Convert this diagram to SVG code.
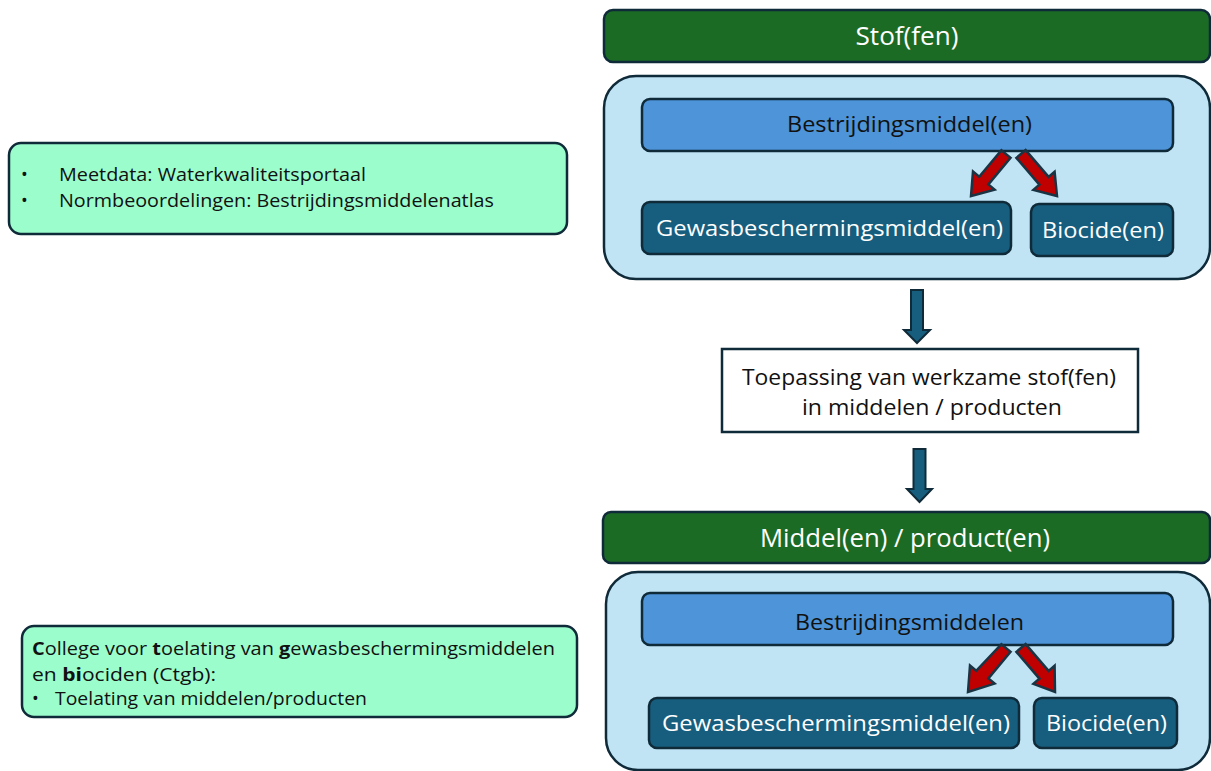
<svg xmlns="http://www.w3.org/2000/svg" width="1211" height="771" viewBox="0 0 1211 771">
<style>
text{font-family:"Open Sans","Noto Sans","Liberation Sans",sans-serif;}
.green{fill:#1c6b25;stroke:#0f2a38;stroke-width:2.5;}
.cont{fill:#c0e4f4;stroke:#0f2a38;stroke-width:2.5;}
.mid{fill:#4e94d8;stroke:#0f2a38;stroke-width:2.5;}
.dark{fill:#175e7e;stroke:#0f2a38;stroke-width:2.5;}
.mint{fill:#9cfdcc;stroke:#0f2a38;stroke-width:2.5;}
.white{fill:#ffffff;stroke:#0f2a38;stroke-width:2.5;}
.red{fill:#c00000;stroke:#1a3444;stroke-width:2.5;stroke-linejoin:miter;}
.down{fill:#175e7e;stroke:#0f2a38;stroke-width:2;}
.tw{fill:#ffffff;text-anchor:middle;}
.tb{fill:#111111;text-anchor:middle;}
.tl{fill:#111111;font-size:18px;}
</style>

<g id="stoffen">
<rect class="green" x="604" y="10" width="606" height="52" rx="9"/>
<text class="tw" x="907" y="45" font-size="25" textLength="103" lengthAdjust="spacingAndGlyphs">Stof(fen)</text>
</g>

<g id="container1">
<rect class="cont" x="604" y="76" width="606" height="203" rx="32"/>
</g>
<g id="bestrijding1">
<rect class="mid" x="642" y="99" width="531" height="52" rx="8"/>
<text class="tb" x="909.5" y="132" font-size="22" textLength="245" lengthAdjust="spacingAndGlyphs">Bestrijdingsmiddel(en)</text>
</g>
<g id="gewas1">
<rect class="dark" x="642" y="202" width="369" height="52" rx="8"/>
<text class="tw" x="829.5" y="236" font-size="22" textLength="347" lengthAdjust="spacingAndGlyphs">Gewasbeschermingsmiddel(en)</text>
</g>
<g id="biocide1">
<rect class="dark" x="1031" y="204" width="142" height="52" rx="8"/>
<text class="tw" x="1103" y="238" font-size="22" textLength="122" lengthAdjust="spacingAndGlyphs">Biocide(en)</text>
</g>

<g id="toepassing">
<rect class="white" x="722" y="349" width="416" height="83"/>
<text class="tb" x="929" y="385" font-size="22" textLength="374" lengthAdjust="spacingAndGlyphs">Toepassing van werkzame stof(fen)</text>
<text class="tb" x="932" y="415" font-size="22" textLength="260" lengthAdjust="spacingAndGlyphs">in middelen / producten</text>
</g>

<g id="middelen">
<rect class="green" x="603" y="512" width="607" height="51" rx="8"/>
<text class="tw" x="905" y="547" font-size="25" textLength="290" lengthAdjust="spacingAndGlyphs">Middel(en) / product(en)</text>
</g>

<g id="container2">
<rect class="cont" x="606" y="572" width="604" height="198" rx="32"/>
</g>
<g id="bestrijding2">
<rect class="mid" x="642" y="593" width="531" height="52" rx="8"/>
<text class="tb" x="909.5" y="630" font-size="22" textLength="229" lengthAdjust="spacingAndGlyphs">Bestrijdingsmiddelen</text>
</g>
<g id="gewas2">
<rect class="dark" x="649" y="698" width="370" height="50" rx="8"/>
<text class="tw" x="836" y="731" font-size="22" textLength="348" lengthAdjust="spacingAndGlyphs">Gewasbeschermingsmiddel(en)</text>
</g>
<g id="biocide2">
<rect class="dark" x="1034" y="698" width="143" height="50" rx="8"/>
<text class="tw" x="1106.5" y="731" font-size="22" textLength="121" lengthAdjust="spacingAndGlyphs">Biocide(en)</text>
</g>

<g id="info1">
<rect class="mint" x="9" y="143" width="558" height="91" rx="12"/>
<text class="tl" x="21" y="181">•</text>
<text class="tl" x="59" y="181" textLength="307" lengthAdjust="spacingAndGlyphs">Meetdata: Waterkwaliteitsportaal</text>
<text class="tl" x="21" y="207">•</text>
<text class="tl" x="59" y="207" textLength="435" lengthAdjust="spacingAndGlyphs">Normbeoordelingen: Bestrijdingsmiddelenatlas</text>
</g>

<g id="info2">
<rect class="mint" x="22" y="626" width="555" height="91" rx="12"/>
<text class="tl" x="32" y="655" textLength="523" lengthAdjust="spacingAndGlyphs"><tspan font-weight="bold">C</tspan>ollege voor <tspan font-weight="bold">t</tspan>oelating van <tspan font-weight="bold">g</tspan>ewasbeschermingsmiddelen</text>
<text class="tl" x="32" y="681" textLength="184" lengthAdjust="spacingAndGlyphs">en <tspan font-weight="bold">bi</tspan>ociden (Ctgb):</text>
<text class="tl" x="32" y="705">•</text>
<text class="tl" x="55" y="705" textLength="312" lengthAdjust="spacingAndGlyphs">Toelating van middelen/producten</text>
</g>

<g id="connectors">
<polygon class="red" points="1010.6,157.8 988.4,184.4 994.6,189.6 971,196 973,171.6 979.2,176.8 1001.4,150.2"/>
<polygon class="red" points="1016.4,157.9 1039.4,184.7 1033.4,189.9 1057,196 1054.6,171.7 1048.6,176.9 1025.6,150.1"/>
<polygon class="red" points="1010.6,651.8 988.4,678.4 994.6,683.6 968,692 970,665.6 976.2,670.8 1001.4,644.2"/>
<polygon class="red" points="1016.4,651.9 1039.4,678.7 1033.4,683.9 1055,692 1054.6,665.7 1048.6,670.9 1025.6,644.1"/>
<polygon class="down" points="911,290 923,290 923,330 930,330 917,343 904,330 911,330"/>
<polygon class="down" points="913.5,449 925.5,449 925.5,489 932,489 919.5,502 907,489 913.5,489"/>
</g>
</svg>
